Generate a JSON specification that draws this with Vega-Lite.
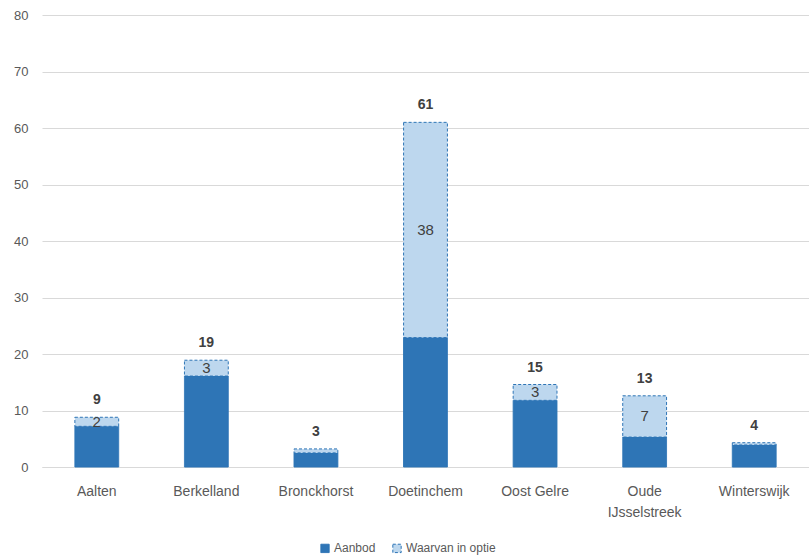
{
  "$schema": "https://vega.github.io/schema/vega-lite/v6.json",
  "width": 767,
  "height": 452,
  "autosize": {"type": "none"},
  "padding": {"left": 42, "top": 15, "right": 0, "bottom": 90},
  "background": "white",
  "config": {
    "view": {"stroke": null},
    "font": "Liberation Sans",
    "axisY": {
      "domain": false,
      "ticks": false,
      "gridColor": "#D9D9D9",
      "labelFont": "Liberation Sans",
      "labelFontSize": 13,
      "labelColor": "#595959",
      "labelPadding": 14
    }
  },
  "data": {
    "values": [
      {"gemeente": "Aalten", "reeks": "Aanbod", "waarde": 7.2},
      {"gemeente": "Aalten", "reeks": "Waarvan in optie", "waarde": 1.6},
      {"gemeente": "Berkelland", "reeks": "Aanbod", "waarde": 16.1},
      {"gemeente": "Berkelland", "reeks": "Waarvan in optie", "waarde": 2.8},
      {"gemeente": "Bronckhorst", "reeks": "Aanbod", "waarde": 2.5},
      {"gemeente": "Bronckhorst", "reeks": "Waarvan in optie", "waarde": 0.7},
      {"gemeente": "Doetinchem", "reeks": "Aanbod", "waarde": 22.9},
      {"gemeente": "Doetinchem", "reeks": "Waarvan in optie", "waarde": 38.1},
      {"gemeente": "Oost Gelre", "reeks": "Aanbod", "waarde": 11.8},
      {"gemeente": "Oost Gelre", "reeks": "Waarvan in optie", "waarde": 2.8},
      {"gemeente": "Oude IJsselstreek", "reeks": "Aanbod", "waarde": 5.3},
      {"gemeente": "Oude IJsselstreek", "reeks": "Waarvan in optie", "waarde": 7.3},
      {"gemeente": "Winterswijk", "reeks": "Aanbod", "waarde": 3.9},
      {"gemeente": "Winterswijk", "reeks": "Waarvan in optie", "waarde": 0.4}
    ]
  },
  "encoding": {
    "x": {
      "field": "gemeente",
      "type": "nominal",
      "sort": null,
      "scale": {"paddingInner": 0.6, "paddingOuter": 0.3},
      "axis": {
        "title": null,
        "labelAngle": 0,
        "ticks": false,
        "domain": true,
        "domainColor": "#D9D9D9",
        "labelFont": "Liberation Sans",
        "labelFontSize": 14,
        "labelColor": "#595959",
        "labelPadding": 17,
        "labelLineHeight": 21,
        "labelExpr": "datum.value == 'Oude IJsselstreek' ? ['Oude', 'IJsselstreek'] : datum.value"
      }
    }
  },
  "layer": [
    {
      "mark": {"type": "bar", "strokeWidth": 1, "stroke": "#2E75B6"},
      "encoding": {
        "y": {
          "field": "waarde",
          "type": "quantitative",
          "stack": "zero",
          "scale": {"domain": [0, 80]},
          "axis": {"title": null, "values": [0, 10, 20, 30, 40, 50, 60, 70, 80]}
        },
        "order": {"field": "reeks", "sort": "ascending"},
        "fill": {
          "field": "reeks",
          "type": "nominal",
          "scale": {"domain": ["Aanbod", "Waarvan in optie"], "range": ["#2E75B6", "#BDD7EE"]},
          "legend": {
            "title": null,
            "orient": "none",
            "direction": "horizontal",
            "legendX": 277,
            "legendY": 527,
            "symbolType": "square",
            "symbolSize": 70,
            "symbolStrokeColor": "#2E75B6",
            "symbolStrokeWidth": 1,
            "labelFont": "Liberation Sans",
            "labelFontSize": 12,
            "labelColor": "#595959",
            "columnPadding": 14,
            "labelOffset": 3
          }
        },
        "strokeDash": {
          "field": "reeks",
          "type": "nominal",
          "scale": {"domain": ["Aanbod", "Waarvan in optie"], "range": [[1, 0], [3, 2]]},
          "legend": {
            "title": null,
            "orient": "none",
            "direction": "horizontal",
            "legendX": 277,
            "legendY": 527
          }
        }
      }
    },
    {
      "transform": [
        {"stack": "waarde", "groupby": ["gemeente"], "sort": [{"field": "reeks", "order": "ascending"}], "as": ["y0", "y1"]},
        {"calculate": "(datum.y0 + datum.y1) / 2", "as": "midden"},
        {"filter": "datum.reeks == 'Waarvan in optie' && datum.waarde > 1"}
      ],
      "mark": {"type": "text", "fontSize": 15, "color": "#404040", "baseline": "middle"},
      "encoding": {
        "y": {"field": "midden", "type": "quantitative", "axis": {"title": null, "values": [0, 10, 20, 30, 40, 50, 60, 70, 80]}},
        "text": {"field": "waarde", "type": "quantitative", "format": ".0f"}
      }
    },
    {
      "mark": {"type": "text", "fontSize": 14, "fontWeight": "bold", "color": "#404040", "dy": -17},
      "encoding": {
        "y": {"aggregate": "sum", "field": "waarde", "type": "quantitative", "axis": {"title": null, "values": [0, 10, 20, 30, 40, 50, 60, 70, 80]}},
        "text": {"aggregate": "sum", "field": "waarde", "type": "quantitative", "format": ".0f"}
      }
    }
  ]
}
